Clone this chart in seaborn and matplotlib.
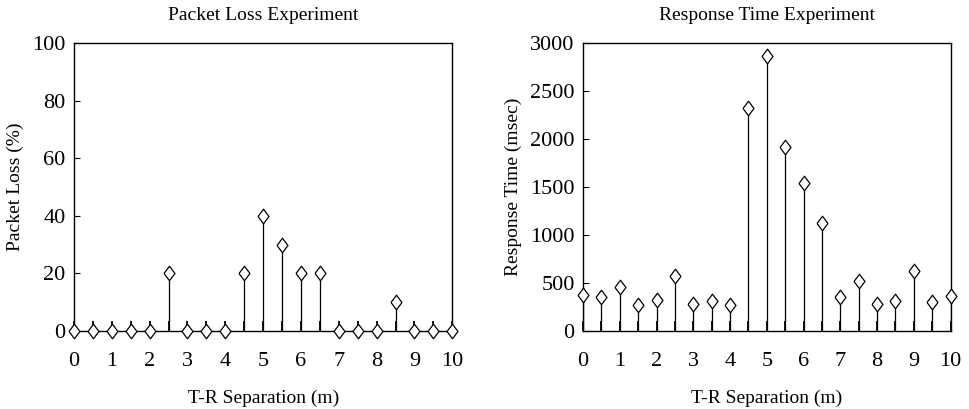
import matplotlib
matplotlib.use("Agg")
import matplotlib.pyplot as plt
import numpy as np
import pandas as pd
import seaborn as sns

# T-R separation (m)
separation = [0, 0.5, 1, 1.5, 2, 2.5, 3, 3.5, 4, 4.5, 5, 5.5, 6, 6.5, 7, 7.5, 8, 8.5, 9, 9.5, 10]
# packet loss (%)
packet_loss = [0, 0, 0, 0, 0, 20, 0, 0, 0, 20, 40, 30, 20, 20, 0, 0, 0, 10, 0, 0, 0]
# response time (msec)
response_time = [374, 350, 455, 269, 322, 570, 280, 311, 273, 2325, 2871, 1916, 1542, 1129,
                 350, 521, 280, 311, 622, 304, 364]

sns.set_style("white")
plt.rcParams['font.family'] = ['Liberation Serif', 'DejaVu Serif']
plt.rcParams['text.color'] = 'black'
plt.rcParams['axes.labelcolor'] = 'black'
plt.rcParams['xtick.color'] = 'black'
plt.rcParams['ytick.color'] = 'black'

df = pd.DataFrame({"sep": separation, "loss": packet_loss, "rt": response_time})

# open diamond, a bit wider than matplotlib's 'd'
diamond = [(-0.75, 0), (0, 1), (0.75, 0), (0, -1), (-0.75, 0)]

fig, axs = plt.subplots(1, 2, figsize=(9.69, 4.09), dpi=100)
fig.subplots_adjust(left=0.0764, right=0.981, top=0.894, bottom=0.191, wspace=0.35)


def stem_plot(ax, col, ymax, yticks, title, ylabel):
    ax.vlines(df["sep"], 0, df[col], color="black", linewidth=0.9, zorder=2)
    sns.scatterplot(data=df, x="sep", y=col, ax=ax, marker=diamond, s=110,
                    facecolor="white", edgecolor="black", linewidth=0.9,
                    zorder=3, clip_on=False, legend=False)
    ax.set_xlim(0, 10)
    ax.set_ylim(0, ymax)
    ax.set_xticks(range(11))
    ax.set_xticks(np.arange(0, 10.5, 0.5), minor=True)
    ax.set_yticks(yticks)
    ax.tick_params(axis="x", which="both", bottom=True, direction="in", length=7,
                   width=1.3, labelsize=16, pad=15, color="black")
    ax.tick_params(axis="y", left=True, direction="in", length=4.5, width=0.8,
                   labelsize=16, pad=6, color="black")
    for sp in ax.spines.values():
        sp.set_color("black")
        sp.set_linewidth(1.0)
    ax.set_title(title, fontsize=14, pad=17)
    ax.set_xlabel("T-R Separation (m)", fontsize=14, labelpad=14)
    ax.set_ylabel(ylabel, fontsize=14, labelpad=6)


stem_plot(axs[0], "loss", 100, [0, 20, 40, 60, 80, 100],
          "Packet Loss Experiment", "Packet Loss (%)")
stem_plot(axs[1], "rt", 3000, [0, 500, 1000, 1500, 2000, 2500, 3000],
          "Response Time Experiment", "Response Time (msec)")

pos = axs[1].get_position()
axs[1].set_position([0.6017, pos.y0, 0.981 - 0.6017, pos.height])
pos = axs[0].get_position()
axs[0].set_position([0.0764, pos.y0, 0.4667 - 0.0764, pos.height])

fig.savefig("out.png", dpi=100)
